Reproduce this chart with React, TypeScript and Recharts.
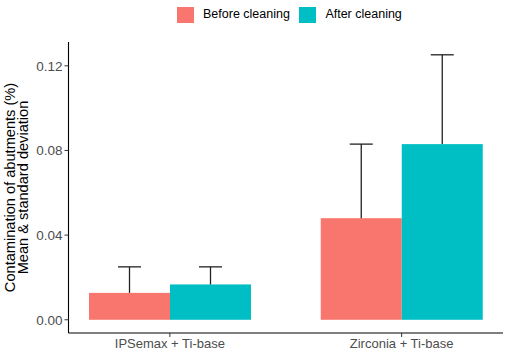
import React from "react";
import { BarChart, Bar, XAxis, YAxis, Legend } from "recharts";

const categories = ["IPSemax + Ti-base", "Zirconia + Ti-base"];
const beforeMean = [0.0127, 0.048];
const beforeSd = [0.0123, 0.035];
const afterMean = [0.0167, 0.083];
const afterSd = [0.0083, 0.0422];
const yTicks = [0, 0.04, 0.08, 0.12];
const seriesNames = ["Before cleaning", "After cleaning"];

const COLORS = ["#F8766D", "#00BFC4"];
const FONT = "'Liberation Sans', Arial, sans-serif";

const data = categories.map((name, i) => ({
  name,
  before: beforeMean[i],
  beforeSd: beforeSd[i],
  after: afterMean[i],
  afterSd: afterSd[i],
}));

// bar + upper half of the error bar (ggplot style, ymin = mean)
const barWithError = (meanKey: string, sdKey: string, fill: string) => (props: any) => {
  const { x, y, width, height, payload } = props;
  const mean = payload[meanKey];
  const pxPerUnit = mean ? height / mean : 0;
  const top = y - payload[sdKey] * pxPerUnit;
  const cx = x + width / 2;
  return (
    <g>
      <rect x={x} y={y} width={width} height={height} fill={fill} />
      <line x1={cx} x2={cx} y1={y} y2={top} stroke="#222" strokeWidth={1.3} />
      <line x1={cx - 11.5} x2={cx + 11.5} y1={top} y2={top} stroke="#222" strokeWidth={1.3} />
    </g>
  );
};

const renderYLabel = () => (
  <text
    transform="translate(0,187.5) rotate(-90)"
    textAnchor="middle"
    fontFamily={FONT}
    fontSize={14.6}
    fill="#000"
  >
    <tspan x={0} y={14.5}>Contamination of abutments (%)</tspan>
    <tspan x={0} y={28}>Mean &amp; standard deviation</tspan>
  </text>
);

const LegendBox = () => (
  <div style={{ height: 42, position: "relative", fontFamily: FONT, fontSize: 12.5, color: "#000" }}>
    <div style={{ position: "absolute", left: 176.5, top: 7, display: "flex", alignItems: "center" }}>
      {seriesNames.map((s, i) => (
        <div key={s} style={{ display: "flex", alignItems: "center", marginRight: 9 }}>
          <span style={{ width: 17.5, height: 15.5, background: COLORS[i], display: "inline-block" }} />
          <span style={{ marginLeft: 9, lineHeight: "15.5px" }}>{s}</span>
        </div>
      ))}
    </div>
  </div>
);

export default function App() {
  return (
    <div style={{ position: "absolute", left: 0, top: 0, background: "#fff" }}>
      <BarChart
        width={505}
        height={353}
        data={data}
        margin={{ top: 0, right: 2, bottom: 0, left: 0 }}
        barCategoryGap={35}
        barGap={0}
      >
        <Legend verticalAlign="top" content={() => <LegendBox />} />
        <XAxis
          dataKey="name"
          height={20}
          padding={{ left: -14.5, right: -14.5 }}
          axisLine={{ stroke: "#000", strokeWidth: 1.1 }}
          tickLine={{ stroke: "#333" }}
          tickSize={4}
          tick={{ fill: "#4D4D4D", fontSize: 13, fontFamily: FONT }}
          interval={0}
        />
        <YAxis
          type="number"
          width={68.5}
          domain={[-0.00625, 0.13125]}
          allowDataOverflow
          ticks={yTicks}
          tickFormatter={(v: number) => v.toFixed(2)}
          axisLine={{ stroke: "#000", strokeWidth: 1.1 }}
          tickLine={{ stroke: "#333" }}
          tickSize={4}
          tick={{ fill: "#4D4D4D", fontSize: 13.5, fontFamily: FONT }}
          label={renderYLabel}
        />
        <Bar
          dataKey="before"
          name={seriesNames[0]}
          fill={COLORS[0]}
          isAnimationActive={false}
          shape={barWithError("before", "beforeSd", COLORS[0])}
        />
        <Bar
          dataKey="after"
          name={seriesNames[1]}
          fill={COLORS[1]}
          isAnimationActive={false}
          shape={barWithError("after", "afterSd", COLORS[1])}
        />
      </BarChart>
    </div>
  );
}
